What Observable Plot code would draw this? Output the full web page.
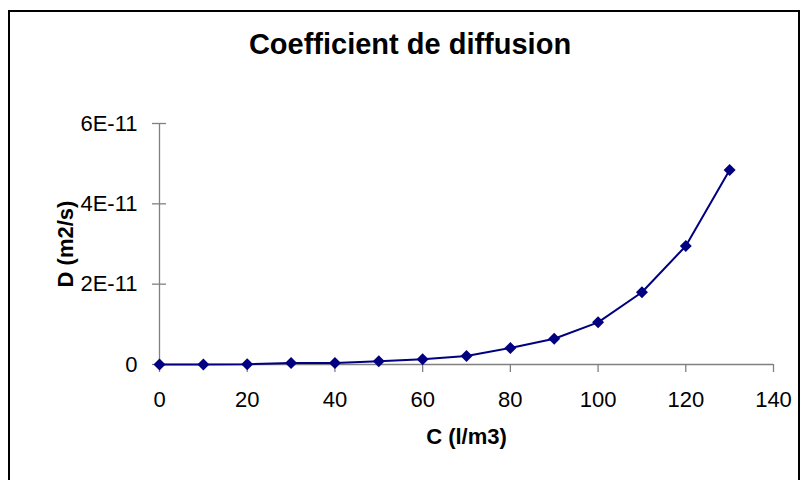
<!DOCTYPE html>
<html>
<head>
<meta charset="utf-8">
<script src="https://cdn.jsdelivr.net/npm/d3@7"></script>
<script src="https://cdn.jsdelivr.net/npm/@observablehq/plot@0.6"></script>
<style>
  html, body { margin: 0; padding: 0; background: #fff; width: 804px; height: 480px; overflow: hidden; }
  #frame { position: absolute; left: 8px; top: 10px; width: 792px; height: 490px; border: 2px solid #000; box-sizing: border-box; }
  #title { position: absolute; left: 0; width: 820px; top: 26px; text-align: center; font-family: "Liberation Sans", Arial, sans-serif; font-weight: bold; font-size: 29px; line-height: 36px; color: #000; }
  #chart { position: absolute; left: 0; top: 0; }
</style>
</head>
<body>
<div id="frame"></div>
<div id="chart"></div>
<div id="title">Coefficient de diffusion</div>
<script>
const concentration = [0, 10, 20, 30, 40, 50, 60, 70, 80, 90, 100, 110, 120, 130];
const diffusion = [0, 0, 0.05e-12, 0.4e-12, 0.4e-12, 0.82e-12, 1.3e-12, 2.1e-12, 4.1e-12, 6.4e-12, 10.5e-12, 18.0e-12, 29.5e-12, 48.4e-12];
const xTicks = [0, 20, 40, 60, 80, 100, 120, 140];
const yTicks = [0, 2e-11, 4e-11, 6e-11];
const yTickLabels = ["0", "2E-11", "4E-11", "6E-11"];

const data = concentration.map((c, i) => ({c, d: diffusion[i]}));
const font = "Liberation Sans, Arial, sans-serif";
const axisGray = "#808080";
const navy = "#000080";

const plot = Plot.plot({
  width: 804,
  height: 480,
  marginLeft: 159,
  marginRight: 31,
  marginTop: 123,
  marginBottom: 116,
  style: {fontFamily: font, background: "transparent", overflow: "visible"},
  x: {domain: [0, 140]},
  y: {domain: [0, 6e-11]},
  marks: [
    Plot.ruleY([0], {x1: 0, x2: 140, stroke: axisGray, strokeWidth: 1.3}),
    Plot.ruleX([0], {y1: 0, y2: 6e-11, stroke: axisGray, strokeWidth: 1.3}),
    Plot.ruleY(yTicks, {y: d => d, x1: 0, x2: 0, insetLeft: -7, insetRight: -7, stroke: axisGray, strokeWidth: 1.3}),
    Plot.axisX({ticks: xTicks, tickSize: 8, tickPadding: 19, stroke: axisGray, strokeWidth: 1.3, fill: "#000", fontSize: 22, label: null, tickFormat: d => String(d)}),
    Plot.axisY({ticks: yTicks, tickSize: 0, tickPadding: 22, fill: "#000", fontSize: 22, label: null, tickFormat: d => yTickLabels[yTicks.indexOf(d)]}),
    Plot.line(data, {x: "c", y: "d", stroke: navy, strokeWidth: 2}),
    Plot.dot(data, {x: "c", y: "d", symbol: "diamond2", r: 5.4, fill: navy, stroke: "none"}),
    Plot.text(["D (m2/s)"], {frameAnchor: "left", textAnchor: "middle", text: d => d, rotate: -90, dx: -94, fontWeight: "bold", fontSize: 22, fill: "#000"}),
    Plot.text(["C (l/m3)"], {frameAnchor: "bottom", textAnchor: "middle", text: d => d, dy: 79, fontWeight: "bold", fontSize: 22, fill: "#000"})
  ]
});
document.getElementById("chart").appendChild(plot);
</script>
</body>
</html>
